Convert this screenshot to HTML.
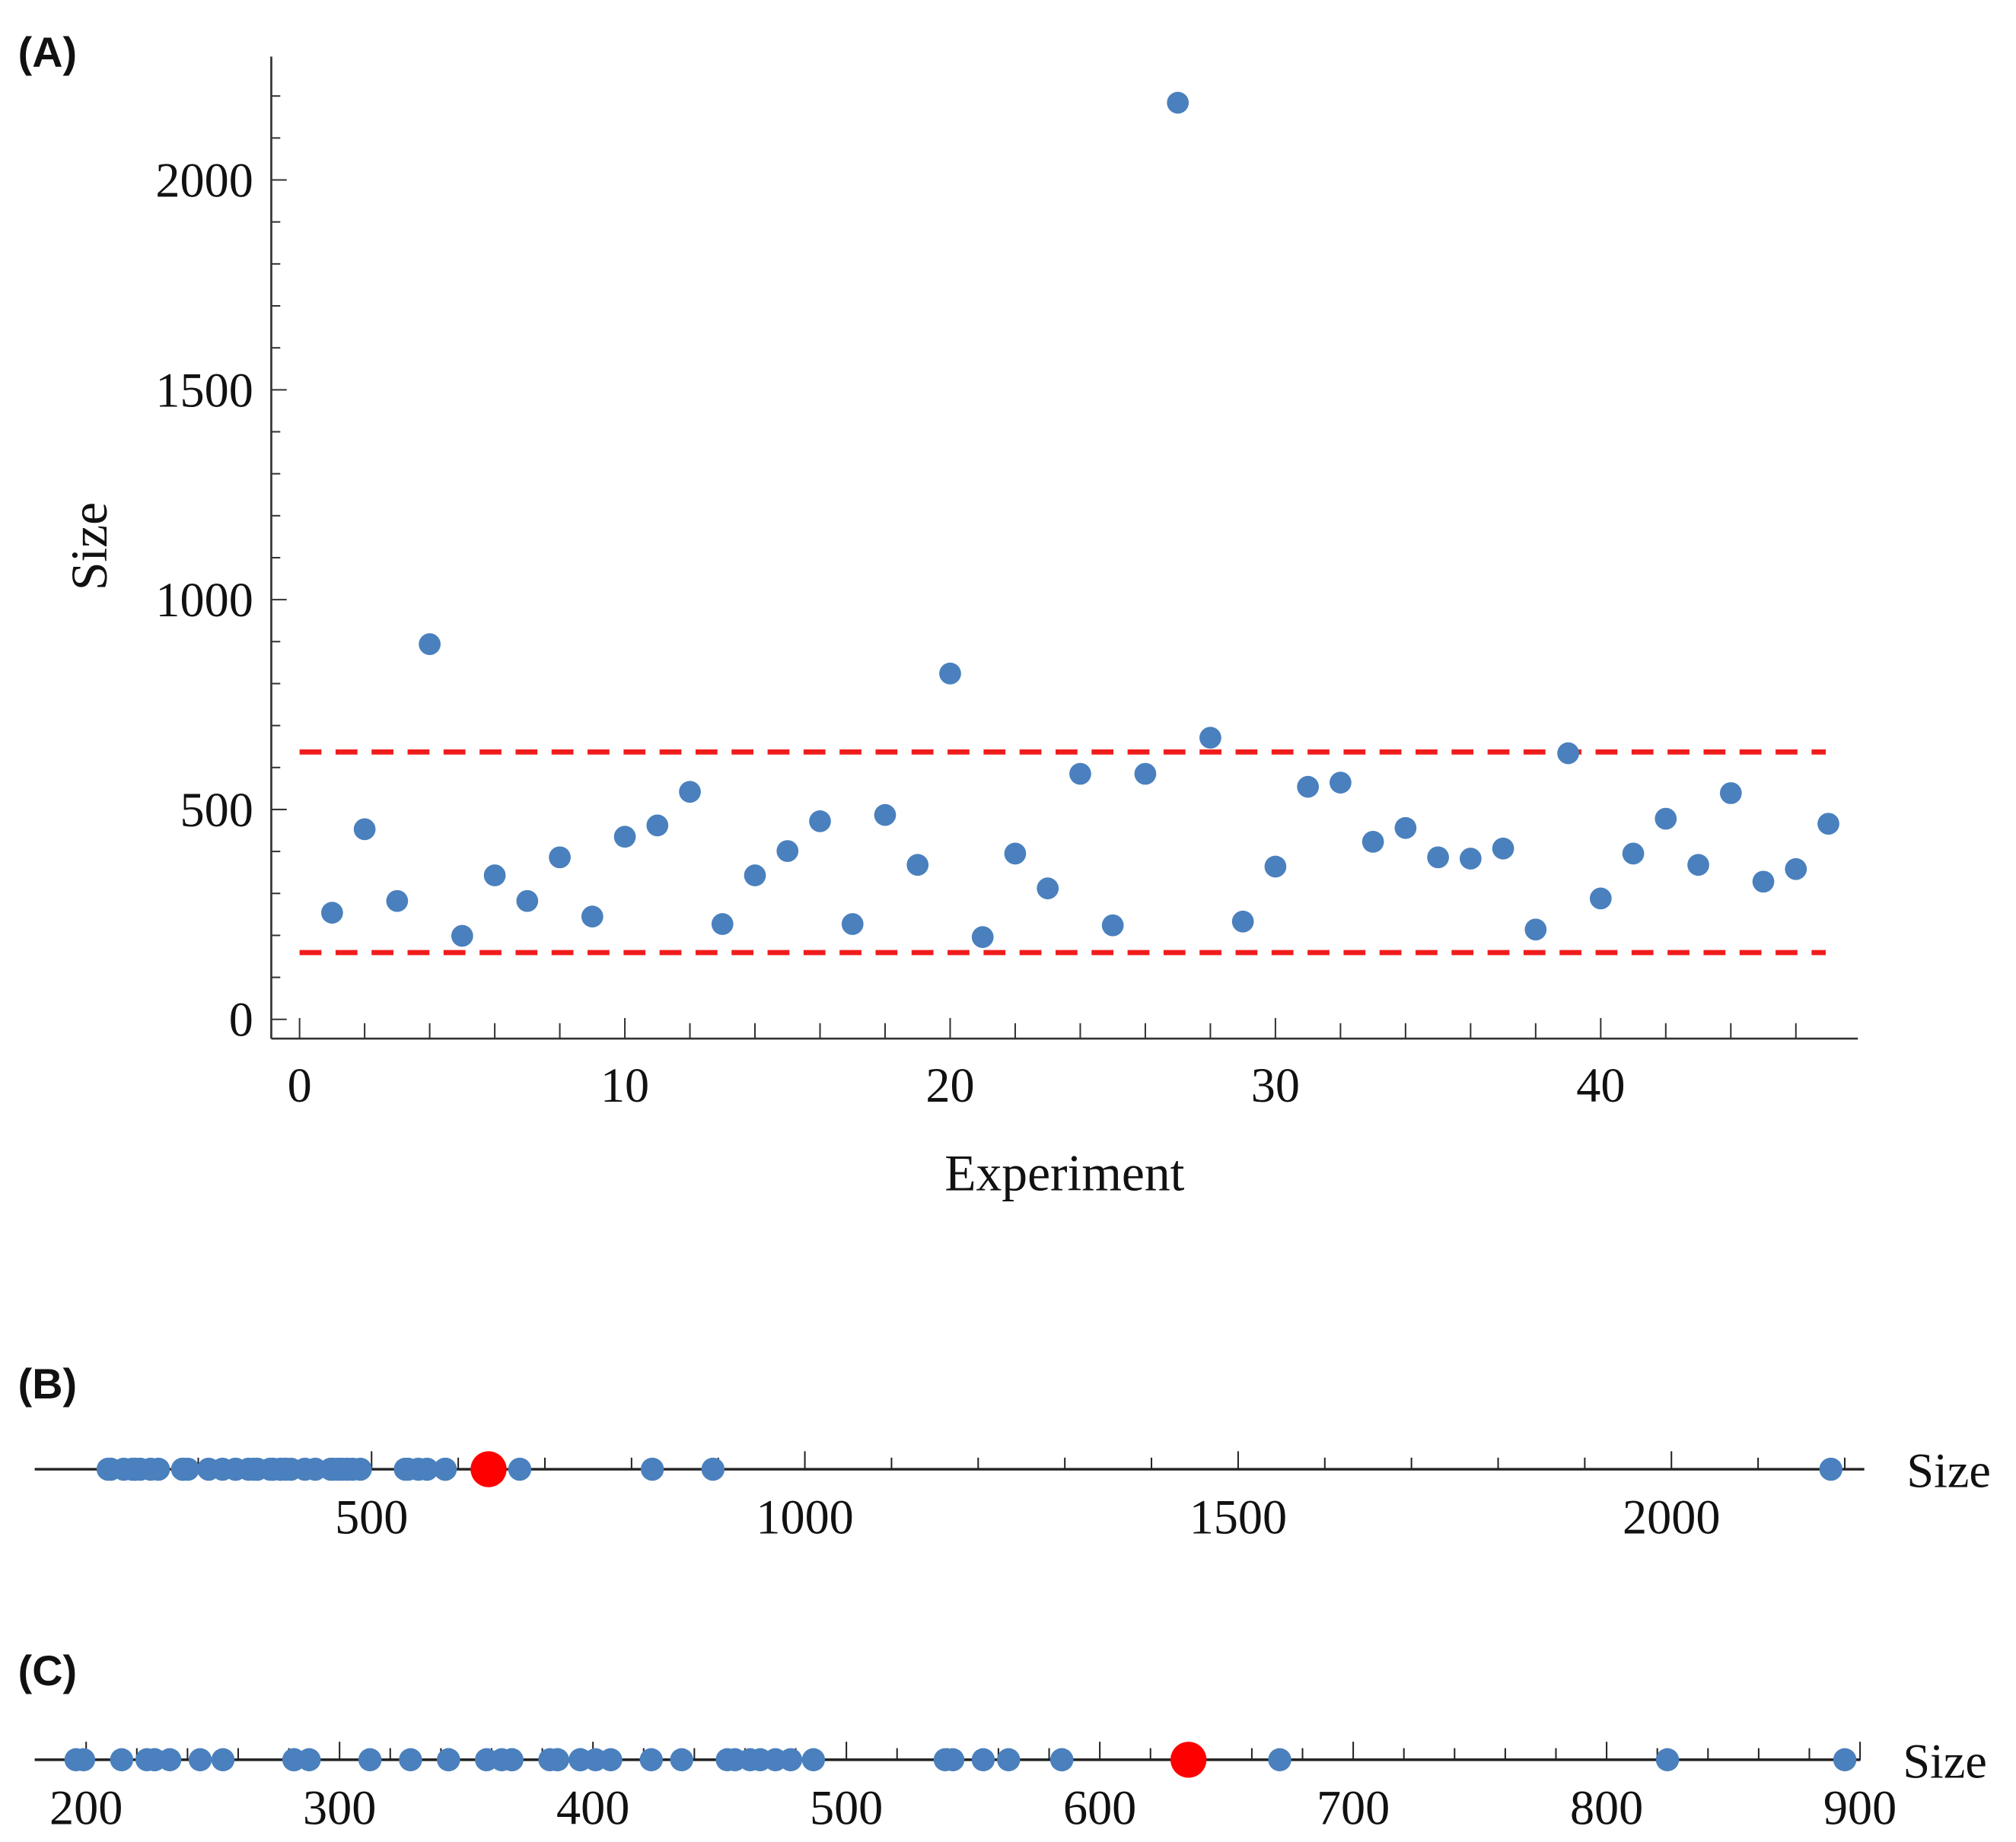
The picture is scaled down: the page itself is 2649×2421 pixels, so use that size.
<!DOCTYPE html>
<html><head><meta charset="utf-8"><style>
html,body{margin:0;padding:0;background:#fff;}
svg{display:block;}
text{font-family:"Liberation Serif",serif;fill:#111;}
.lbl{font-family:"Liberation Sans",sans-serif;font-weight:bold;}
</style></head><body>
<svg id="fig" width="2649" height="2421" viewBox="0 0 1568 1433" preserveAspectRatio="none" xmlns="http://www.w3.org/2000/svg">
<text class="lbl" x="14" y="52" font-size="33">(A)</text>
<text class="lbl" x="14" y="1088" font-size="33">(B)</text>
<text class="lbl" x="14" y="1311" font-size="33">(C)</text>
<g id="ga"></g><g id="gb"></g><g id="gc"></g>
</svg>
<script>
const experiments = [1,2,3,4,5,6,7,8,9,10,11,12,13,14,15,16,17,18,19,20,21,22,23,24,25,26,27,28,29,30,31,32,33,34,35,36,37,38,39,40,41,42,43,44,45,46,47];
const sizes = [254,453,282,894,199,343,282,386,245,435,462,542,227,343,401,472,227,487,368,824,196,395,312,585,224,585,2184,671,233,364,554,564,423,456,386,383,407,214,634,288,395,478,368,539,328,358,466];
const limits = [159,637];
const markerValue = [635];
const yTicksA = [0,500,1000,1500,2000];
const xTicksA = [0,10,20,30,40];
const xTicksB = [500,1000,1500,2000];
const xTicksC = [200,300,400,500,600,700,800,900];
const NS='http://www.w3.org/2000/svg';
function mk(parent,tag,attrs){const e=document.createElementNS(NS,tag);for(const k in attrs)e.setAttribute(k,attrs[k]);parent.appendChild(e);return e;}
const blue='#4a80bd';
const FS=38;
// Panel A
const ga=document.getElementById('ga');
const xA=v=>233+v*25.3, yA=v=>793-v*0.3265;
let e;
e=mk(ga,'line',{x1:211,y1:44,x2:211,y2:808,stroke:'#333','stroke-width':1.6});


e=mk(ga,'line',{x1:211,y1:808,x2:1445,y2:808,stroke:'#333','stroke-width':1.6});


for(let v=0;v<=2200;v+=100){const maj=v%500===0;mk(ga,'line',{x1:211,x2:211+(maj?12:7),y1:yA(v),y2:yA(v),stroke:'#333','stroke-width':1.2});}
for(let v=0;v<=46;v+=2){const maj=v%10===0;mk(ga,'line',{x1:xA(v),x2:xA(v),y1:808,y2:808-(maj?16:12),stroke:'#333','stroke-width':1.2});}
yTicksA.forEach(v=>{e=mk(ga,'text',{x:197,y:yA(v)+13,'font-size':FS,'text-anchor':'end'});e.textContent=v;

});
xTicksA.forEach(v=>{e=mk(ga,'text',{x:xA(v),y:857,'font-size':FS,'text-anchor':'middle'});e.textContent=v;

});
e=mk(ga,'text',{x:828,y:926,'font-size':40,'text-anchor':'middle'});e.textContent='Experiment';


e=mk(ga,'text',{x:0,y:0,'font-size':40,'text-anchor':'middle',transform:'translate(83,425) rotate(-90)'});e.textContent='Size';


limits.forEach(v=>{e=mk(ga,'line',{x1:233,x2:1420,y1:yA(v),y2:yA(v),stroke:'#f01c1c','stroke-width':4,'stroke-dasharray':'17 11'});

});
experiments.forEach((x,i)=>{e=mk(ga,'circle',{cx:xA(x),cy:yA(sizes[i]),r:8.5,fill:blue});

});
// Panel B
const gb=document.getElementById('gb');
const xB=v=>-48+v*0.674, yB=1143;
e=mk(gb,'line',{x1:27,x2:1450,y1:yB,y2:yB,stroke:'#222','stroke-width':2});


for(let v=200;v<=2200;v+=100){const maj=v%500===0;mk(gb,'line',{x1:xB(v),x2:xB(v),y1:yB,y2:yB-(maj?14:9),stroke:'#222','stroke-width':1.2});}
xTicksB.forEach(v=>{e=mk(gb,'text',{x:xB(v),y:1193,'font-size':FS,'text-anchor':'middle'});e.textContent=v;

});
e=mk(gb,'text',{x:1483,y:1157,'font-size':FS});e.textContent='Size';


sizes.forEach(v=>{e=mk(gb,'circle',{cx:xB(v),cy:yB,r:9,fill:blue});

});
markerValue.forEach(v=>{e=mk(gb,'circle',{cx:xB(v),cy:yB,r:14,fill:'#f00'});

});
// Panel C
const gc=document.getElementById('gc');
const xC=v=>67+(v-200)*1.971, yC=1369;
e=mk(gc,'line',{x1:27,x2:1447,y1:yC,y2:yC,stroke:'#222','stroke-width':2});


for(let v=200;v<=900;v+=20){const maj=v%100===0;mk(gc,'line',{x1:xC(v),x2:xC(v),y1:yC,y2:yC-(maj?14:9),stroke:'#222','stroke-width':1.2});}
xTicksC.forEach(v=>{e=mk(gc,'text',{x:xC(v),y:1419,'font-size':FS,'text-anchor':'middle'});e.textContent=v;

});
e=mk(gc,'text',{x:1480,y:1383,'font-size':FS});e.textContent='Size';


sizes.filter(v=>v<=900).forEach(v=>{e=mk(gc,'circle',{cx:xC(v),cy:yC,r:9,fill:blue});

});
markerValue.forEach(v=>{e=mk(gc,'circle',{cx:xC(v),cy:yC,r:14,fill:'#f00'});

});
</script>
</body></html>
